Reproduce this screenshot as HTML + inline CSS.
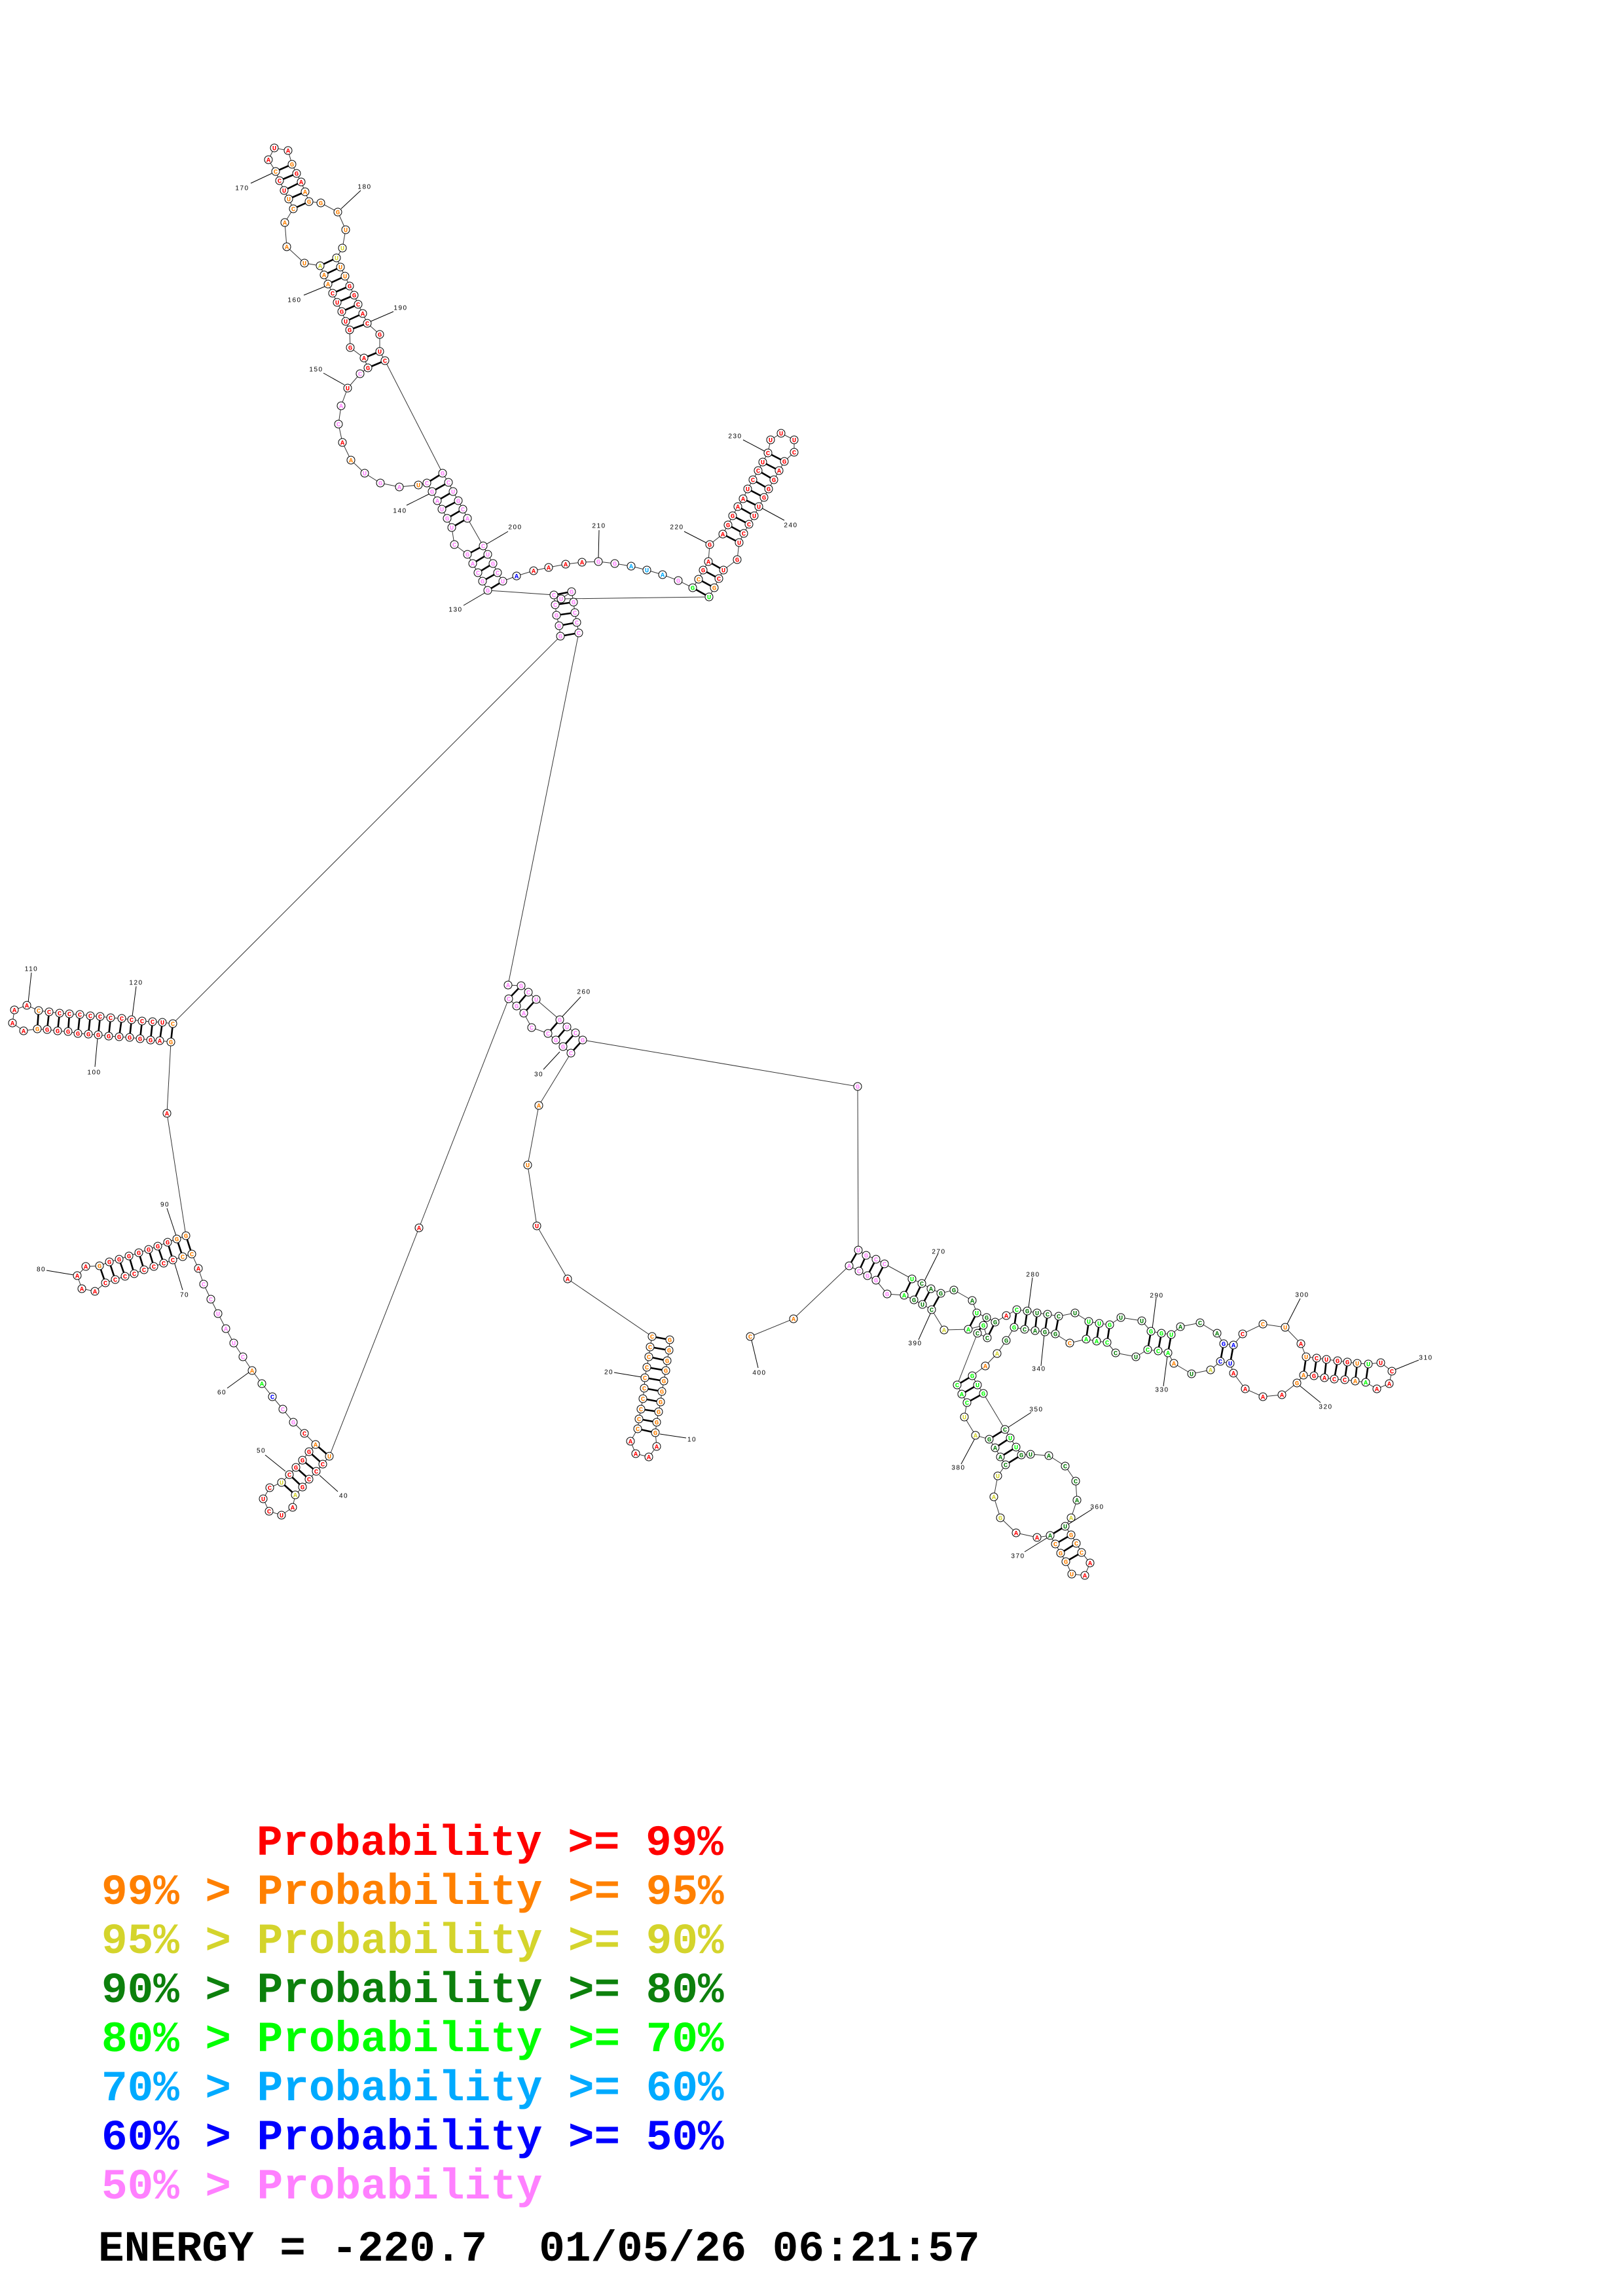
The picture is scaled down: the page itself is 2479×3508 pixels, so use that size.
<!DOCTYPE html>
<html><head><meta charset="utf-8"><style>
html,body{margin:0;padding:0;background:#fff;}
svg{display:block;}
.lg{font-family:"Liberation Mono","Courier New",monospace;font-weight:bold;font-size:66px;white-space:pre;}
.lb{font-family:"Liberation Sans",sans-serif;font-size:10px;letter-spacing:1.5px;fill:#000;}
</style></head><body>
<svg width="2479" height="3508" viewBox="0 0 2479 3508" xmlns="http://www.w3.org/2000/svg">
<defs>
<marker id="n" markerWidth="16" markerHeight="16" refX="8" refY="8" markerUnits="userSpaceOnUse" overflow="visible"><circle cx="8" cy="8" r="6" fill="#fff" stroke="#000" stroke-width="1"/></marker>
</defs>
<rect width="2479" height="3508" fill="#fff"/>
<!-- label ticks -->
<path fill="none" stroke="#000" stroke-width="1" d="M1048 2197L1008 2191M938 2097L980 2104M1158 2090L1148 2048M887 1523L859 1553M830 1634L855 1607M516 2279L488 2254M405 2223L436 2248M347 2121L380 2097M48 1486L43 1532M208 1507L202 1553M145 1630L149 1586M255 1846L269 1888M71 1941L113 1948M279 1971L266 1928M383 280L415 265M551 291L521 319M464 451L498 437M601 476L564 492M494 570L526 588M621 772L657 754M776 812L742 832M915 810L914 853M1045 812L1082 831M708 925L742 905M1135 672L1169 690M1198 795L1163 776M1433 1915L1412 1957M1577 1952L1571 1998M1766 1983L1760 2030M1403 2047L1422 2005M1590 2087L1595 2039M1777 2118L1783 2072M1575 2158L1538 2182M1468 2237L1490 2196M1668 2306L1630 2330M1565 2371L1602 2348M1986 1984L1966 2023M2167 2078L2130 2093M2017 2143L1985 2117"/>
<!-- base pairs -->
<path fill="none" stroke="#000" stroke-width="2.6" d="M1023 2047L996 2042M1022 2063L993 2058M1019 2079L991 2073M1017 2094L988 2089M1014 2110L985 2105M1011 2126L984 2121M1009 2142L982 2137M1006 2157L979 2153M1003 2173L976 2168M1001 2189L974 2183M872 1609L890 1589M860 1599L879 1578M849 1589L866 1569M837 1579L855 1558M800 1548L819 1527M789 1537L807 1516M777 1526L796 1506M503 2225L482 2207M493 2237L472 2218M483 2248L462 2231M472 2260L452 2242M462 2272L442 2253M451 2284L430 2265M293 1916L284 1888M279 1920L270 1893M264 1925L256 1898M250 1930L241 1904M235 1935L227 1909M220 1940L212 1914M205 1946L197 1919M191 1950L182 1924M176 1955L167 1928M161 1960L152 1934M261 1592L264 1564M244 1590L248 1562M230 1589L233 1561M214 1587L217 1560M198 1585L201 1558M182 1584L186 1556M166 1583L169 1555M150 1581L153 1553M135 1580L138 1552M119 1579L122 1550M104 1576L106 1549M88 1575L91 1548M72 1573L75 1546M57 1572L59 1544M856 972L884 967M854 956L881 951M850 940L878 936M848 924L876 920M846 909L873 904M745 902L768 888M737 888L760 875M730 875L753 861M722 861L745 847M714 847L738 834M690 806L714 792M683 792L707 778M675 778L700 765M668 765L692 751M660 751L685 737M652 738L676 723M562 562L588 551M556 547L580 537M534 504L561 494M528 491L554 479M522 476L547 465M515 462L541 451M508 448L534 437M501 434L527 422M495 420L520 408M489 406L514 394M448 319L472 308M441 304L466 293M434 291L460 278M427 276L453 265M421 262L446 251M1058 898L1083 912M1067 885L1091 898M1074 871L1098 884M1082 858L1105 871M1104 816L1129 829M1112 802L1136 815M1119 788L1144 801M1127 774L1152 788M1135 762L1159 774M1142 747L1167 760M1150 733L1174 747M1158 719L1182 733M1165 706L1190 719M1173 692L1198 705M1311 1910L1297 1934M1323 1918L1312 1942M1338 1924L1325 1949M1351 1931L1338 1956M1393 1954L1381 1979M1408 1961L1396 1986M1422 1969L1409 1993M1437 1976L1423 2001M1492 2006L1479 2031M1507 2013L1493 2037M1520 2020L1508 2044M1553 2001L1549 2028M1569 2003L1565 2031M1584 2006L1581 2033M1600 2008L1596 2035M1617 2011L1612 2038M1663 2019L1659 2046M1679 2022L1675 2049M1695 2024L1691 2051M1758 2034L1753 2062M1774 2037L1769 2064M1789 2039L1784 2067M1869 2053L1864 2080M1884 2055L1879 2083M1995 2073L1991 2101M2011 2075L2007 2102M2026 2077L2023 2105M2043 2079L2038 2107M2058 2081L2054 2108M2073 2083L2070 2110M2090 2084L2086 2112M1485 2102L1462 2116M1493 2116L1469 2130M1502 2129L1477 2143M1535 2184L1511 2199M1543 2197L1520 2212M1552 2211L1528 2226M1560 2223L1536 2238M1627 2332L1604 2346M1636 2345L1612 2359M1644 2358L1620 2373M1652 2372L1628 2386"/>
<!-- backbone with nucleotide circles -->
<polyline fill="none" stroke="#333" stroke-width="1" marker-start="url(#n)" marker-mid="url(#n)" marker-end="url(#n)" points="1023,2047 1022,2063 1019,2079 1017,2094 1014,2110 1011,2126 1009,2142 1006,2157 1003,2173 1001,2189 1003,2210 991,2226 971,2221 963,2202 974,2183 976,2168 979,2153 982,2137 984,2121 985,2105 988,2089 991,2073 993,2058 996,2042 867,1954 820,1873 806,1780 823,1689 872,1609 860,1599 849,1589 837,1579 812,1570 800,1548 789,1537 777,1526 640,1876 503,2225 493,2237 483,2248 472,2260 462,2272 451,2284 447,2303 430,2315 411,2309 402,2290 412,2273 430,2265 442,2253 452,2242 462,2231 472,2218 482,2207 465,2190 448,2173 432,2153 416,2134 400,2114 385,2094 371,2073 357,2052 345,2030 333,2007 322,1985 311,1962 303,1938 293,1916 279,1920 264,1925 250,1930 235,1935 220,1940 205,1946 191,1950 176,1955 161,1960 145,1973 125,1969 118,1949 131,1935 152,1934 167,1928 182,1924 197,1919 212,1914 227,1909 241,1904 256,1898 270,1893 284,1888 255,1701 261,1592 244,1590 230,1589 214,1587 198,1585 182,1584 166,1583 150,1581 135,1580 119,1579 104,1576 88,1575 72,1573 57,1572 36,1575 19,1563 22,1543 41,1536 59,1544 75,1546 91,1548 106,1549 122,1550 138,1552 153,1553 169,1555 186,1556 201,1558 217,1560 233,1561 248,1562 264,1564 856,972 854,956 850,940 848,924 846,909 745,902 737,888 730,875 722,861 714,847 694,832 690,806 683,792 675,778 668,765 660,751 652,738 639,741 610,744 581,738 557,723 536,703 523,676 517,648 521,620 531,593 550,571 562,562 556,547 535,531 534,504 528,491 522,476 515,462 508,448 501,434 495,420 489,406 465,402 438,377 435,340 448,319 441,304 434,291 427,276 421,262 410,244 419,226 440,230 446,251 453,265 460,278 466,293 472,308 490,310 516,324 528,351 523,379 514,394 520,408 527,422 534,437 541,451 547,465 554,479 561,494 580,511 580,537 588,551 676,723 685,737 692,751 700,765 707,778 714,792 738,834 745,847 753,861 760,875 768,888 789,880 815,872 838,867 864,862 889,859 914,858 939,861 964,865 988,871 1012,878 1036,887 1058,898 1067,885 1074,871 1082,858 1084,832 1104,816 1112,802 1119,788 1127,774 1135,762 1142,747 1150,733 1158,719 1165,706 1173,692 1177,672 1193,662 1213,672 1213,691 1198,705 1190,719 1182,733 1174,747 1167,760 1159,774 1152,788 1144,801 1136,815 1129,829 1126,855 1105,871 1098,884 1091,898 1083,912 857,915 873,904 876,920 878,936 881,951 884,967 776,1505 796,1506 807,1516 819,1527 855,1558 866,1569 879,1578 890,1589 1310,1660 1311,1910 1323,1918 1338,1924 1351,1931 1393,1954 1408,1961 1422,1969 1437,1976 1457,1971 1485,1987 1492,2006 1507,2013 1520,2020 1537,2010 1553,2001 1569,2003 1584,2006 1600,2008 1617,2011 1642,2006 1663,2019 1679,2022 1695,2024 1712,2013 1744,2018 1758,2034 1774,2037 1789,2039 1803,2027 1833,2021 1859,2037 1869,2053 1884,2055 1898,2038 1929,2023 1963,2028 1987,2053 1995,2073 2011,2075 2026,2077 2043,2079 2058,2081 2073,2083 2090,2084 2109,2082 2126,2095 2122,2114 2103,2122 2086,2112 2070,2110 2054,2108 2038,2107 2023,2105 2007,2102 1991,2101 1981,2113 1958,2131 1929,2134 1902,2122 1884,2098 1879,2083 1864,2080 1849,2093 1820,2099 1793,2083 1784,2067 1769,2064 1753,2062 1735,2073 1704,2067 1691,2051 1675,2049 1659,2046 1634,2052 1612,2038 1596,2035 1581,2033 1565,2031 1549,2028 1537,2048 1523,2068 1505,2087 1485,2102 1493,2116 1502,2129 1535,2184 1543,2197 1552,2211 1560,2223 1574,2222 1602,2224 1627,2240 1643,2263 1645,2292 1636,2319 1627,2332 1636,2345 1644,2358 1652,2372 1665,2388 1657,2407 1637,2405 1628,2386 1620,2373 1612,2359 1604,2346 1584,2349 1552,2342 1528,2319 1518,2287 1524,2255 1536,2238 1528,2226 1520,2212 1511,2199 1490,2193 1473,2165 1477,2143 1469,2130 1462,2116 1493,2037 1508,2044 1502,2025 1479,2031 1442,2032 1423,2001 1409,1993 1396,1986 1381,1979 1355,1977 1338,1956 1325,1949 1312,1942 1297,1934 1212,2015 1146,2042"/>
<!-- nucleotide letters -->
<g transform="translate(0,3.7)" text-anchor="middle" font-family="Liberation Mono, monospace" font-weight="bold" font-size="10.5">
<g fill="#ff8000"><text x="1023" y="2047">G</text><text x="1022" y="2063">G</text><text x="1019" y="2079">G</text><text x="1017" y="2094">G</text><text x="1014" y="2110">G</text><text x="1011" y="2126">G</text><text x="1009" y="2142">G</text><text x="1006" y="2157">G</text><text x="1003" y="2173">G</text><text x="1001" y="2189">G</text></g>
<g fill="#f00"><text x="1003" y="2210">A</text><text x="991" y="2226">A</text><text x="971" y="2221">A</text><text x="963" y="2202">A</text></g>
<g fill="#ff8000"><text x="974" y="2183">C</text><text x="976" y="2168">C</text><text x="979" y="2153">C</text><text x="982" y="2137">C</text><text x="984" y="2121">C</text><text x="985" y="2105">C</text><text x="988" y="2089">C</text><text x="991" y="2073">C</text><text x="993" y="2058">C</text><text x="996" y="2042">C</text></g>
<g fill="#f00"><text x="867" y="1954">A</text><text x="820" y="1873">U</text></g>
<g fill="#ff8000"><text x="806" y="1780">U</text><text x="823" y="1689">A</text></g>
<g fill="#ff80ff"><text x="872" y="1609">C</text><text x="860" y="1599">G</text><text x="849" y="1589">G</text><text x="837" y="1579">C</text><text x="812" y="1570">C</text><text x="800" y="1548">A</text><text x="789" y="1537">G</text><text x="777" y="1526">C</text></g>
<g fill="#f00"><text x="640" y="1876">A</text></g>
<g fill="#ff8000"><text x="503" y="2225">U</text></g>
<g fill="#f00"><text x="493" y="2237">C</text><text x="483" y="2248">C</text><text x="472" y="2260">C</text><text x="462" y="2272">G</text></g>
<g fill="#d4d42c"><text x="451" y="2284">A</text></g>
<g fill="#f00"><text x="447" y="2303">A</text><text x="430" y="2315">U</text><text x="411" y="2309">C</text><text x="402" y="2290">U</text><text x="412" y="2273">C</text></g>
<g fill="#d4d42c"><text x="430" y="2265">U</text></g>
<g fill="#f00"><text x="442" y="2253">C</text><text x="452" y="2242">G</text><text x="462" y="2231">G</text><text x="472" y="2218">G</text></g>
<g fill="#ff8000"><text x="482" y="2207">A</text></g>
<g fill="#f00"><text x="465" y="2190">C</text></g>
<g fill="#ff80ff"><text x="448" y="2173">G</text><text x="432" y="2153">C</text></g>
<g fill="#00f"><text x="416" y="2134">C</text></g>
<g fill="#0f0"><text x="400" y="2114">A</text></g>
<g fill="#ff8000"><text x="385" y="2094">A</text></g>
<g fill="#ff80ff"><text x="371" y="2073">C</text><text x="357" y="2052">U</text><text x="345" y="2030">A</text><text x="333" y="2007">U</text><text x="322" y="1985">C</text><text x="311" y="1962">C</text></g>
<g fill="#f00"><text x="303" y="1938">A</text></g>
<g fill="#ff8000"><text x="293" y="1916">C</text><text x="279" y="1920">C</text></g>
<g fill="#f00"><text x="264" y="1925">C</text><text x="250" y="1930">C</text><text x="235" y="1935">C</text><text x="220" y="1940">C</text><text x="205" y="1946">C</text><text x="191" y="1950">C</text><text x="176" y="1955">C</text><text x="161" y="1960">C</text><text x="145" y="1973">A</text><text x="125" y="1969">A</text><text x="118" y="1949">A</text><text x="131" y="1935">A</text></g>
<g fill="#ff8000"><text x="152" y="1934">G</text></g>
<g fill="#f00"><text x="167" y="1928">G</text><text x="182" y="1924">G</text><text x="197" y="1919">G</text><text x="212" y="1914">G</text><text x="227" y="1909">G</text><text x="241" y="1904">G</text><text x="256" y="1898">G</text></g>
<g fill="#ff8000"><text x="270" y="1893">G</text><text x="284" y="1888">G</text></g>
<g fill="#f00"><text x="255" y="1701">A</text></g>
<g fill="#ff8000"><text x="261" y="1592">G</text></g>
<g fill="#f00"><text x="244" y="1590">A</text><text x="230" y="1589">G</text><text x="214" y="1587">G</text><text x="198" y="1585">G</text><text x="182" y="1584">G</text><text x="166" y="1583">G</text><text x="150" y="1581">G</text><text x="135" y="1580">G</text><text x="119" y="1579">G</text><text x="104" y="1576">G</text><text x="88" y="1575">G</text><text x="72" y="1573">G</text></g>
<g fill="#ff8000"><text x="57" y="1572">G</text></g>
<g fill="#f00"><text x="36" y="1575">A</text><text x="19" y="1563">A</text><text x="22" y="1543">A</text><text x="41" y="1536">A</text></g>
<g fill="#ff8000"><text x="59" y="1544">C</text></g>
<g fill="#f00"><text x="75" y="1546">C</text><text x="91" y="1548">C</text><text x="106" y="1549">C</text><text x="122" y="1550">C</text><text x="138" y="1552">C</text><text x="153" y="1553">C</text><text x="169" y="1555">C</text><text x="186" y="1556">C</text><text x="201" y="1558">C</text><text x="217" y="1560">C</text><text x="233" y="1561">C</text><text x="248" y="1562">U</text></g>
<g fill="#ff8000"><text x="264" y="1564">C</text></g>
<g fill="#ff80ff"><text x="856" y="972">G</text><text x="854" y="956">G</text><text x="850" y="940">G</text><text x="848" y="924">C</text><text x="846" y="909">C</text><text x="745" y="902">G</text><text x="737" y="888">G</text><text x="730" y="875">C</text><text x="722" y="861">A</text><text x="714" y="847">G</text><text x="694" y="832">C</text><text x="690" y="806">U</text><text x="683" y="792">G</text><text x="675" y="778">U</text><text x="668" y="765">A</text><text x="660" y="751">G</text><text x="652" y="738">C</text></g>
<g fill="#ff8000"><text x="639" y="741">U</text></g>
<g fill="#ff80ff"><text x="610" y="744">A</text><text x="581" y="738">G</text><text x="557" y="723">U</text></g>
<g fill="#ff8000"><text x="536" y="703">A</text></g>
<g fill="#f00"><text x="523" y="676">A</text></g>
<g fill="#ff80ff"><text x="517" y="648">C</text><text x="521" y="620">A</text></g>
<g fill="#f00"><text x="531" y="593">U</text></g>
<g fill="#ff80ff"><text x="550" y="571">C</text></g>
<g fill="#f00"><text x="562" y="562">G</text><text x="556" y="547">A</text><text x="535" y="531">G</text><text x="534" y="504">G</text><text x="528" y="491">U</text><text x="522" y="476">G</text><text x="515" y="462">U</text><text x="508" y="448">C</text></g>
<g fill="#ff8000"><text x="501" y="434">A</text><text x="495" y="420">A</text></g>
<g fill="#d4d42c"><text x="489" y="406">A</text></g>
<g fill="#ff8000"><text x="465" y="402">U</text><text x="438" y="377">A</text><text x="435" y="340">A</text><text x="448" y="319">C</text><text x="441" y="304">U</text></g>
<g fill="#f00"><text x="434" y="291">U</text><text x="427" y="276">C</text></g>
<g fill="#ff8000"><text x="421" y="262">C</text></g>
<g fill="#f00"><text x="410" y="244">A</text><text x="419" y="226">U</text><text x="440" y="230">A</text></g>
<g fill="#ff8000"><text x="446" y="251">G</text></g>
<g fill="#f00"><text x="453" y="265">G</text><text x="460" y="278">A</text></g>
<g fill="#ff8000"><text x="466" y="293">A</text><text x="472" y="308">G</text><text x="490" y="310">G</text><text x="516" y="324">G</text><text x="528" y="351">U</text></g>
<g fill="#d4d42c"><text x="523" y="379">U</text><text x="514" y="394">U</text></g>
<g fill="#ff8000"><text x="520" y="408">U</text><text x="527" y="422">U</text></g>
<g fill="#f00"><text x="534" y="437">G</text><text x="541" y="451">G</text><text x="547" y="465">C</text><text x="554" y="479">A</text><text x="561" y="494">C</text><text x="580" y="511">G</text><text x="580" y="537">U</text><text x="588" y="551">C</text></g>
<g fill="#ff80ff"><text x="676" y="723">G</text><text x="685" y="737">C</text><text x="692" y="751">U</text><text x="700" y="765">G</text><text x="707" y="778">C</text><text x="714" y="792">A</text><text x="738" y="834">C</text><text x="745" y="847">U</text><text x="753" y="861">G</text><text x="760" y="875">C</text><text x="768" y="888">U</text></g>
<g fill="#00f"><text x="789" y="880">A</text></g>
<g fill="#f00"><text x="815" y="872">A</text><text x="838" y="867">A</text><text x="864" y="862">A</text><text x="889" y="859">A</text></g>
<g fill="#ff80ff"><text x="914" y="858">G</text><text x="939" y="861">G</text></g>
<g fill="#00aaff"><text x="964" y="865">A</text><text x="988" y="871">U</text><text x="1012" y="878">A</text></g>
<g fill="#ff80ff"><text x="1036" y="887">G</text></g>
<g fill="#0f0"><text x="1058" y="898">G</text></g>
<g fill="#ff8000"><text x="1067" y="885">C</text></g>
<g fill="#f00"><text x="1074" y="871">G</text><text x="1082" y="858">A</text><text x="1084" y="832">G</text><text x="1104" y="816">A</text><text x="1112" y="802">G</text><text x="1119" y="788">G</text><text x="1127" y="774">A</text><text x="1135" y="762">A</text><text x="1142" y="747">U</text><text x="1150" y="733">C</text><text x="1158" y="719">C</text><text x="1165" y="706">U</text><text x="1173" y="692">C</text><text x="1177" y="672">U</text><text x="1193" y="662">U</text><text x="1213" y="672">U</text><text x="1213" y="691">C</text><text x="1198" y="705">G</text><text x="1190" y="719">A</text><text x="1182" y="733">G</text><text x="1174" y="747">G</text><text x="1167" y="760">G</text><text x="1159" y="774">U</text><text x="1152" y="788">U</text><text x="1144" y="801">C</text><text x="1136" y="815">C</text><text x="1129" y="829">U</text><text x="1126" y="855">G</text><text x="1105" y="871">U</text><text x="1098" y="884">C</text></g>
<g fill="#ff8000"><text x="1091" y="898">G</text></g>
<g fill="#0f0"><text x="1083" y="912">U</text></g>
<g fill="#ff80ff"><text x="857" y="915">U</text><text x="873" y="904">G</text><text x="876" y="920">G</text><text x="878" y="936">C</text><text x="881" y="951">C</text><text x="884" y="967">C</text><text x="776" y="1505">A</text><text x="796" y="1506">G</text><text x="807" y="1516">C</text><text x="819" y="1527">U</text><text x="855" y="1558">G</text><text x="866" y="1569">U</text><text x="879" y="1578">C</text><text x="890" y="1589">G</text><text x="1310" y="1660">G</text><text x="1311" y="1910">U</text><text x="1323" y="1918">G</text><text x="1338" y="1924">C</text><text x="1351" y="1931">C</text></g>
<g fill="#0f0"><text x="1393" y="1954">U</text></g>
<g fill="#0c800c"><text x="1408" y="1961">C</text><text x="1422" y="1969">A</text><text x="1437" y="1976">G</text><text x="1457" y="1971">G</text><text x="1485" y="1987">A</text></g>
<g fill="#0f0"><text x="1492" y="2006">U</text></g>
<g fill="#0c800c"><text x="1507" y="2013">G</text><text x="1520" y="2020">G</text></g>
<g fill="#f00"><text x="1537" y="2010">A</text></g>
<g fill="#0f0"><text x="1553" y="2001">C</text></g>
<g fill="#0c800c"><text x="1569" y="2003">G</text><text x="1584" y="2006">U</text><text x="1600" y="2008">C</text><text x="1617" y="2011">C</text><text x="1642" y="2006">U</text></g>
<g fill="#0f0"><text x="1663" y="2019">U</text><text x="1679" y="2022">U</text><text x="1695" y="2024">G</text></g>
<g fill="#0c800c"><text x="1712" y="2013">U</text><text x="1744" y="2018">U</text></g>
<g fill="#0f0"><text x="1758" y="2034">G</text><text x="1774" y="2037">G</text><text x="1789" y="2039">U</text></g>
<g fill="#0c800c"><text x="1803" y="2027">A</text><text x="1833" y="2021">C</text><text x="1859" y="2037">A</text></g>
<g fill="#00f"><text x="1869" y="2053">G</text><text x="1884" y="2055">A</text></g>
<g fill="#f00"><text x="1898" y="2038">C</text></g>
<g fill="#ff8000"><text x="1929" y="2023">C</text><text x="1963" y="2028">U</text></g>
<g fill="#f00"><text x="1987" y="2053">A</text></g>
<g fill="#ff8000"><text x="1995" y="2073">U</text></g>
<g fill="#f00"><text x="2011" y="2075">C</text><text x="2026" y="2077">U</text><text x="2043" y="2079">G</text><text x="2058" y="2081">G</text></g>
<g fill="#ff8000"><text x="2073" y="2083">U</text></g>
<g fill="#0f0"><text x="2090" y="2084">U</text></g>
<g fill="#f00"><text x="2109" y="2082">U</text><text x="2126" y="2095">C</text><text x="2122" y="2114">A</text><text x="2103" y="2122">A</text></g>
<g fill="#0f0"><text x="2086" y="2112">A</text></g>
<g fill="#ff8000"><text x="2070" y="2110">A</text></g>
<g fill="#f00"><text x="2054" y="2108">C</text><text x="2038" y="2107">C</text><text x="2023" y="2105">A</text><text x="2007" y="2102">G</text></g>
<g fill="#ff8000"><text x="1991" y="2101">A</text><text x="1981" y="2113">G</text></g>
<g fill="#f00"><text x="1958" y="2131">A</text><text x="1929" y="2134">A</text><text x="1902" y="2122">A</text><text x="1884" y="2098">A</text></g>
<g fill="#00f"><text x="1879" y="2083">U</text><text x="1864" y="2080">C</text></g>
<g fill="#d4d42c"><text x="1849" y="2093">A</text></g>
<g fill="#0c800c"><text x="1820" y="2099">U</text></g>
<g fill="#ff8000"><text x="1793" y="2083">A</text></g>
<g fill="#0f0"><text x="1784" y="2067">A</text><text x="1769" y="2064">C</text><text x="1753" y="2062">C</text></g>
<g fill="#0c800c"><text x="1735" y="2073">U</text><text x="1704" y="2067">C</text></g>
<g fill="#0f0"><text x="1691" y="2051">C</text><text x="1675" y="2049">A</text><text x="1659" y="2046">A</text></g>
<g fill="#ff8000"><text x="1634" y="2052">C</text></g>
<g fill="#0c800c"><text x="1612" y="2038">G</text><text x="1596" y="2035">G</text><text x="1581" y="2033">A</text><text x="1565" y="2031">C</text></g>
<g fill="#0f0"><text x="1549" y="2028">G</text></g>
<g fill="#0c800c"><text x="1537" y="2048">G</text></g>
<g fill="#d4d42c"><text x="1523" y="2068">A</text></g>
<g fill="#ff8000"><text x="1505" y="2087">A</text></g>
<g fill="#0f0"><text x="1485" y="2102">G</text><text x="1493" y="2116">U</text><text x="1502" y="2129">G</text></g>
<g fill="#0c800c"><text x="1535" y="2184">C</text></g>
<g fill="#0f0"><text x="1543" y="2197">U</text><text x="1552" y="2211">U</text></g>
<g fill="#0c800c"><text x="1560" y="2223">G</text><text x="1574" y="2222">U</text><text x="1602" y="2224">A</text><text x="1627" y="2240">C</text><text x="1643" y="2263">C</text><text x="1645" y="2292">A</text></g>
<g fill="#d4d42c"><text x="1636" y="2319">A</text></g>
<g fill="#0c800c"><text x="1627" y="2332">U</text></g>
<g fill="#ff8000"><text x="1636" y="2345">G</text><text x="1644" y="2358">C</text><text x="1652" y="2372">C</text></g>
<g fill="#f00"><text x="1665" y="2388">A</text><text x="1657" y="2407">A</text></g>
<g fill="#ff8000"><text x="1637" y="2405">U</text><text x="1628" y="2386">G</text><text x="1620" y="2373">G</text><text x="1612" y="2359">C</text></g>
<g fill="#0c800c"><text x="1604" y="2346">A</text></g>
<g fill="#f00"><text x="1584" y="2349">A</text><text x="1552" y="2342">A</text></g>
<g fill="#d4d42c"><text x="1528" y="2319">G</text><text x="1518" y="2287">A</text><text x="1524" y="2255">U</text></g>
<g fill="#0c800c"><text x="1536" y="2238">C</text><text x="1528" y="2226">A</text><text x="1520" y="2212">A</text><text x="1511" y="2199">G</text></g>
<g fill="#d4d42c"><text x="1490" y="2193">A</text><text x="1473" y="2165">U</text></g>
<g fill="#0f0"><text x="1477" y="2143">C</text><text x="1469" y="2130">A</text><text x="1462" y="2116">C</text></g>
<g fill="#0c800c"><text x="1493" y="2037">C</text><text x="1508" y="2044">C</text></g>
<g fill="#0f0"><text x="1502" y="2025">G</text><text x="1479" y="2031">A</text></g>
<g fill="#d4d42c"><text x="1442" y="2032">A</text></g>
<g fill="#0c800c"><text x="1423" y="2001">C</text><text x="1409" y="1993">U</text><text x="1396" y="1986">G</text></g>
<g fill="#0f0"><text x="1381" y="1979">A</text></g>
<g fill="#ff80ff"><text x="1355" y="1977">G</text><text x="1338" y="1956">G</text><text x="1325" y="1949">G</text><text x="1312" y="1942">C</text><text x="1297" y="1934">A</text></g>
<g fill="#ff8000"><text x="1212" y="2015">A</text><text x="1146" y="2042">C</text></g>
</g>
<!-- position labels -->
<g class="lb" text-anchor="middle" transform="translate(0,3.6)">
<text x="1057" y="2199">10</text><text x="930" y="2096">20</text><text x="1160" y="2097">400</text><text x="892" y="1515">260</text><text x="823" y="1641">30</text><text x="525" y="2285">40</text><text x="399" y="2216">50</text><text x="339" y="2127">60</text><text x="48" y="1480">110</text><text x="208" y="1501">120</text><text x="144" y="1638">100</text><text x="252" y="1840">90</text><text x="63" y="1939">80</text><text x="282" y="1978">70</text><text x="370" y="287">170</text><text x="557" y="285">180</text><text x="450" y="458">160</text><text x="612" y="470">190</text><text x="483" y="564">150</text><text x="611" y="780">140</text><text x="787" y="805">200</text><text x="915" y="803">210</text><text x="1034" y="805">220</text><text x="696" y="931">130</text><text x="1123" y="666">230</text><text x="1208" y="802">240</text><text x="1434" y="1912">270</text><text x="1578" y="1947">280</text><text x="1767" y="1979">290</text><text x="1398" y="2052">390</text><text x="1587" y="2091">340</text><text x="1775" y="2123">330</text><text x="1583" y="2153">350</text><text x="1464" y="2242">380</text><text x="1676" y="2302">360</text><text x="1555" y="2377">370</text><text x="1989" y="1978">300</text><text x="2178" y="2074">310</text><text x="2025" y="2149">320</text>
</g>
<!-- legend -->
<g class="lg">
<text x="392" y="2834" fill="#ff0000">Probability &gt;= 99%</text>
<text x="155" y="2909" fill="#ff8000">99% &gt; Probability &gt;= 95%</text>
<text x="155" y="2984" fill="#d4d42c">95% &gt; Probability &gt;= 90%</text>
<text x="155" y="3059" fill="#0c800c">90% &gt; Probability &gt;= 80%</text>
<text x="155" y="3134" fill="#00ff00">80% &gt; Probability &gt;= 70%</text>
<text x="155" y="3209" fill="#00aaff">70% &gt; Probability &gt;= 60%</text>
<text x="155" y="3284" fill="#0000ff">60% &gt; Probability &gt;= 50%</text>
<text x="155" y="3359" fill="#ff80ff">50% &gt; Probability</text>
<text x="150" y="3454" fill="#000000">ENERGY = -220.7&#160;&#160;01/05/26 06:21:57</text>
</g>
</svg>
</body></html>
